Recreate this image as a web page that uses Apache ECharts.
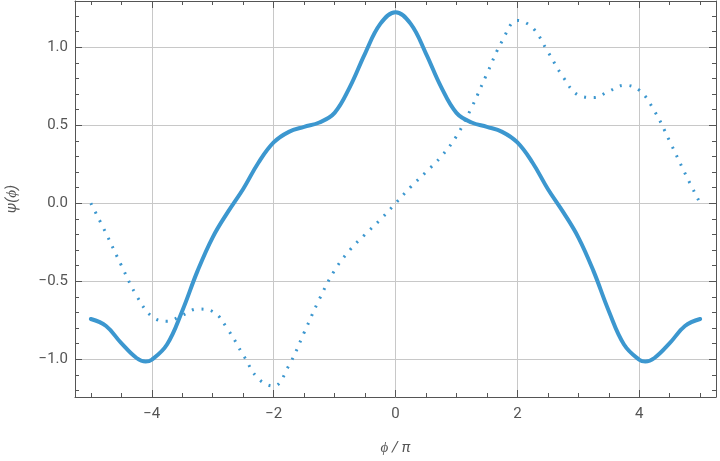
<!DOCTYPE html>
<html>
<head>
<meta charset="utf-8">
<script src="https://cdn.jsdelivr.net/npm/echarts@6/dist/echarts.min.js"></script>
<style>
html,body{margin:0;padding:0;background:#fff;}
#c{width:720px;height:461px;}
</style>
</head>
<body>
<div id="c"></div>
<script>
// ---- data (x in units of pi) ----
const solidX = [-5, -4.75, -4.5, -4.25, -4.1, -4, -3.75, -3.5, -3.25, -3, -2.75, -2.5, -2.25, -2, -1.75, -1.5, -1.25, -1, -0.75, -0.5, -0.25, 0,
                0.25, 0.5, 0.75, 1, 1.25, 1.5, 1.75, 2, 2.25, 2.5, 2.75, 3, 3.25, 3.5, 3.75, 4, 4.1, 4.25, 4.5, 4.75, 5];
const solidY = [-0.742, -0.787, -0.897, -0.992, -1.015, -1.003, -0.905, -0.690, -0.435, -0.218, -0.055, 0.092, 0.260, 0.390, 0.458, 0.490, 0.518, 0.580, 0.745, 0.960, 1.150, 1.225,
                1.150, 0.960, 0.745, 0.580, 0.518, 0.490, 0.458, 0.390, 0.260, 0.092, -0.055, -0.218, -0.435, -0.690, -0.905, -1.003, -1.015, -0.992, -0.897, -0.787, -0.742];

const dottedX = [-5, -4.75, -4.5, -4.25, -4, -3.75, -3.5, -3.25, -3, -2.75, -2.5, -2.25, -2, -1.75, -1.5, -1.25, -1, -0.75, -0.5, -0.25, 0,
                 0.25, 0.5, 0.75, 1, 1.25, 1.5, 1.75, 2, 2.25, 2.5, 2.75, 3, 3.25, 3.5, 3.75, 4, 4.25, 4.5, 4.75, 5];
const dottedY = [0, -0.193, -0.398, -0.592, -0.725, -0.757, -0.718, -0.678, -0.694, -0.810, -0.972, -1.125, -1.172, -1.040, -0.830, -0.615, -0.430, -0.300, -0.200, -0.105, 0,
                 0.105, 0.200, 0.300, 0.430, 0.615, 0.830, 1.040, 1.172, 1.125, 0.972, 0.810, 0.694, 0.678, 0.718, 0.757, 0.725, 0.592, 0.398, 0.193, 0];

const xMajorTicks = [-4, -2, 0, 2, 4];
const xMinorTicks = [-5, -4.5, -4, -3.5, -3, -2.5, -2, -1.5, -1, -0.5, 0, 0.5, 1, 1.5, 2, 2.5, 3, 3.5, 4, 4.5, 5];
const yMajorTicks = [-1, -0.5, 0, 0.5, 1];
const yMinorTicks = [-1.2, -1.1, -1, -0.9, -0.8, -0.7, -0.6, -0.5, -0.4, -0.3, -0.2, -0.1, 0, 0.1, 0.2, 0.3, 0.4, 0.5, 0.6, 0.7, 0.8, 0.9, 1, 1.1, 1.2];
const xRange = [-5.26, 5.26];
const yRange = [-1.242, 1.297];

// ---- chart ----
const AX = '#555555';
const GRID = '#c8c8c8';
const COLOR = '#3c97cf';
const FONT = 'Roboto';
const FS = 15;
const minus = s => s.replace('-', '\u2212');

function makeAxis(dim, pos, ticks, len, showLine, opts) {
  const isX = dim === 'x';
  return Object.assign({
    type: 'value',
    position: pos,
    min: isX ? xRange[0] : yRange[0],
    max: isX ? xRange[1] : yRange[1],
    axisLine: { show: showLine, onZero: false, lineStyle: { color: AX, width: 1 } },
    axisTick: { show: true, inside: true, length: len, customValues: ticks, lineStyle: { color: AX, width: 1 } },
    axisLabel: { show: false },
    splitLine: { show: false },
    minorTick: { show: false },
    minorSplitLine: { show: false }
  }, opts || {});
}

const xAxes = [
  makeAxis('x', 'bottom', xMajorTicks, 7, true, {
    splitLine: { show: true, lineStyle: { color: GRID, width: 1 } },
    axisLabel: { show: true, customValues: xMajorTicks, margin: 10, color: AX, fontSize: FS, fontFamily: FONT,
                 formatter: v => minus(String(v)) },
    name: 'ϕ / π', nameLocation: 'middle', nameGap: 44,
    nameTextStyle: { color: AX, fontSize: FS, fontFamily: FONT, fontStyle: 'italic' }
  }),
  makeAxis('x', 'bottom', xMinorTicks, 4, false),
  makeAxis('x', 'top', xMajorTicks, 7, true),
  makeAxis('x', 'top', xMinorTicks, 4, false)
];
const yAxes = [
  makeAxis('y', 'left', yMajorTicks, 7, true, {
    splitLine: { show: true, lineStyle: { color: GRID, width: 1 } },
    axisLabel: { show: true, customValues: yMajorTicks, margin: 7, color: AX, fontSize: FS, fontFamily: FONT,
                 formatter: v => minus(v.toFixed(1)) },
    name: 'ψ(ϕ)', nameLocation: 'middle', nameGap: 55, nameRotate: 90,
    nameTextStyle: { color: AX, fontSize: FS, fontFamily: FONT, fontStyle: 'italic' }
  }),
  makeAxis('y', 'left', yMinorTicks, 4, false),
  makeAxis('y', 'right', yMajorTicks, 7, true),
  makeAxis('y', 'right', yMinorTicks, 4, false)
];

const chart = echarts.init(document.getElementById('c'), null, { renderer: 'canvas' });
chart.setOption({
  animation: false,
  backgroundColor: '#ffffff',
  grid: { left: 75, right: 4, top: 1, bottom: 64, containLabel: false, outerBoundsMode: 'none' },
  xAxis: xAxes,
  yAxis: yAxes,
  series: [
    {
      type: 'line', xAxisIndex: 0, yAxisIndex: 0,
      data: dottedX.map((x, i) => [x, dottedY[i]]),
      showSymbol: false, smooth: 0.4,
      lineStyle: { color: COLOR, width: 3, type: [2, 7.6], cap: 'butt' },
      z: 2
    },
    {
      type: 'line', xAxisIndex: 0, yAxisIndex: 0,
      data: solidX.map((x, i) => [x, solidY[i]]),
      showSymbol: false, smooth: 0.4,
      lineStyle: { color: COLOR, width: 4, cap: 'round', join: 'round' },
      z: 3
    }
  ]
});
</script>
</body>
</html>
